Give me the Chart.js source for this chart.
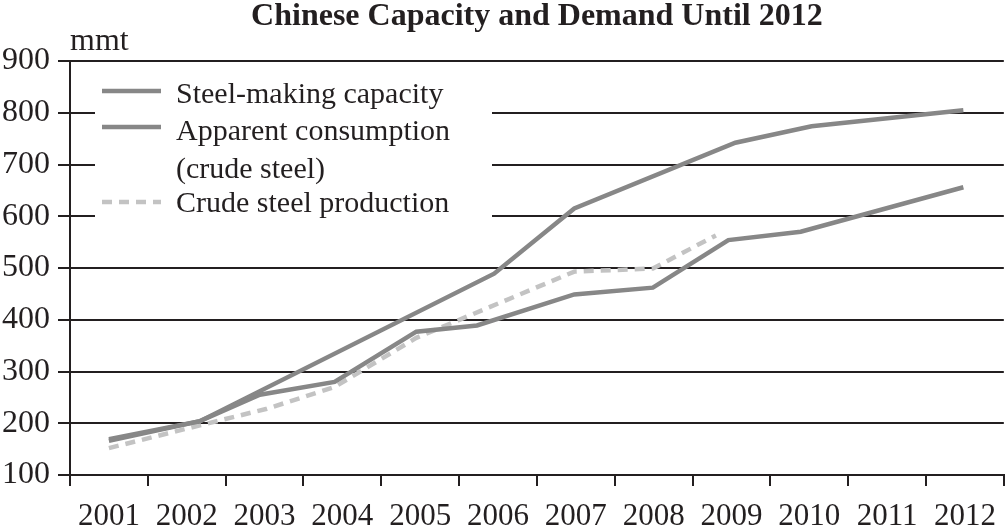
<!DOCTYPE html>
<html>
<head>
<meta charset="utf-8">
<script src="https://cdn.jsdelivr.net/npm/chart.js@4"></script>
<style>
  html, body { margin: 0; padding: 0; background: #fff; }
  #wrap { width: 1008px; height: 528px; position: relative; }
</style>
</head>
<body>
<div id="wrap"><canvas id="steelChart"></canvas></div>
<script>
const years = ['2001', '2002', '2003', '2004', '2005', '2006', '2007', '2008', '2009', '2010', '2011', '2012'];
const yTicks = [100, 200, 300, 400, 500, 600, 700, 800, 900];

// where each line bends (fractional year) and the value there
const capacityAt = [2001, 2002.17, 2005.95, 2006.98, 2009.05, 2010.03, 2011.98];
const capacity = [169, 204, 489, 615, 742, 774, 805];

const consumptionAt = [2001, 2002.17, 2002.94, 2003.9, 2004.95, 2005.73, 2006.98, 2007.99, 2008.96, 2009.89, 2011.98];
const consumption = [166, 204, 255, 280, 377, 389, 449, 462, 554, 570, 656];

const productionAt = [2001, 2002.17, 2003.03, 2003.9, 2004.95, 2006.98, 2007.99, 2008.8];
const production = [152, 196, 228, 270, 365, 493, 499, 563];

const INK = '#231f20';
const SERIF = '"Liberation Serif", "DejaVu Serif", serif';

const pts = (xs, ys) => xs.map((x, i) => ({ x, y: ys[i] }));

// title, unit label and the boxed legend sitting inside the plot
const decorPlugin = {
  id: 'decor',
  beforeDatasetsDraw(chart) {
    const { ctx, chartArea: ca } = chart;
    const L = ca.left, T = ca.top;
    ctx.save();
    ctx.fillStyle = '#fff';
    ctx.fillRect(L + 25, T + 6, 397, 158);

    const items = [
      { ds: 0, lineY: 30, text: ['Steel-making capacity'], base: [42] },
      { ds: 1, lineY: 66, text: ['Apparent consumption', '(crude steel)'], base: [79, 117] },
      { ds: 2, lineY: 141, text: ['Crude steel production'], base: [151] }
    ];
    items.forEach(it => {
      const d = chart.data.datasets[it.ds];
      ctx.beginPath();
      ctx.strokeStyle = d.borderColor;
      ctx.lineWidth = d.borderWidth;
      ctx.setLineDash(d.borderDash || []);
      ctx.moveTo(L + 32, T + it.lineY);
      ctx.lineTo(L + 91, T + it.lineY);
      ctx.stroke();
      ctx.setLineDash([]);
      ctx.fillStyle = INK;
      ctx.font = '30px ' + SERIF;
      ctx.textAlign = 'left';
      ctx.textBaseline = 'alphabetic';
      it.text.forEach((t, k) => ctx.fillText(t, L + 106, T + it.base[k]));
    });
    ctx.restore();
  },
  afterDraw(chart) {
    const { ctx, chartArea: ca } = chart;
    ctx.save();
    ctx.fillStyle = INK;
    ctx.textBaseline = 'alphabetic';
    ctx.font = 'bold 32px ' + SERIF;
    ctx.textAlign = 'center';
    ctx.fillText('Chinese Capacity and Demand Until 2012', (ca.left + ca.right) / 2, 25);
    ctx.font = '32px ' + SERIF;
    ctx.textAlign = 'left';
    ctx.fillText('mmt', ca.left, 50);
    ctx.restore();
  }
};

new Chart(document.getElementById('steelChart'), {
  type: 'line',
  data: {
    labels: years,
    datasets: [
      {
        label: 'Steel-making capacity',
        data: pts(capacityAt, capacity),
        xAxisID: 'xv',
        borderColor: '#878787',
        borderWidth: 4.5,
        tension: 0,
        pointRadius: 0
      },
      {
        label: 'Apparent consumption (crude steel)',
        data: pts(consumptionAt, consumption),
        xAxisID: 'xv',
        borderColor: '#878787',
        borderWidth: 4.5,
        tension: 0,
        pointRadius: 0
      },
      {
        label: 'Crude steel production',
        data: pts(productionAt, production),
        xAxisID: 'xv',
        borderColor: '#c3c3c3',
        borderWidth: 4.5,
        borderDash: [10, 7],
        tension: 0,
        pointRadius: 0
      }
    ]
  },
  options: {
    responsive: true,
    maintainAspectRatio: false,
    animation: false,
    layout: { padding: { top: 61, right: 2, left: 0, bottom: 0 } },
    scales: {
      x: {
        type: 'category',
        offset: true,
        grid: { display: true, drawOnChartArea: false, offset: true, color: INK, lineWidth: 2, tickLength: 11 },
        border: { display: true, color: INK, width: 2 },
        ticks: { color: INK, font: { family: SERIF, size: 31 }, padding: 12, maxRotation: 0, autoSkip: false },
        afterFit: (s) => { s.height = 53; }
      },
      xv: {
        type: 'linear',
        display: false,
        min: 2000.5,
        max: 2012.5
      },
      y: {
        min: 100,
        max: 900,
        afterBuildTicks: (s) => { s.ticks = yTicks.map(v => ({ value: v })); },
        grid: { color: INK, lineWidth: 2, tickLength: 12 },
        border: { display: true, color: INK, width: 2 },
        ticks: { color: INK, font: { family: SERIF, size: 32 }, padding: 8 },
        afterFit: (s) => { s.width = 70; }
      }
    },
    plugins: { legend: { display: false }, tooltip: { enabled: false }, title: { display: false } }
  },
  plugins: [decorPlugin]
});
</script>
</body>
</html>
